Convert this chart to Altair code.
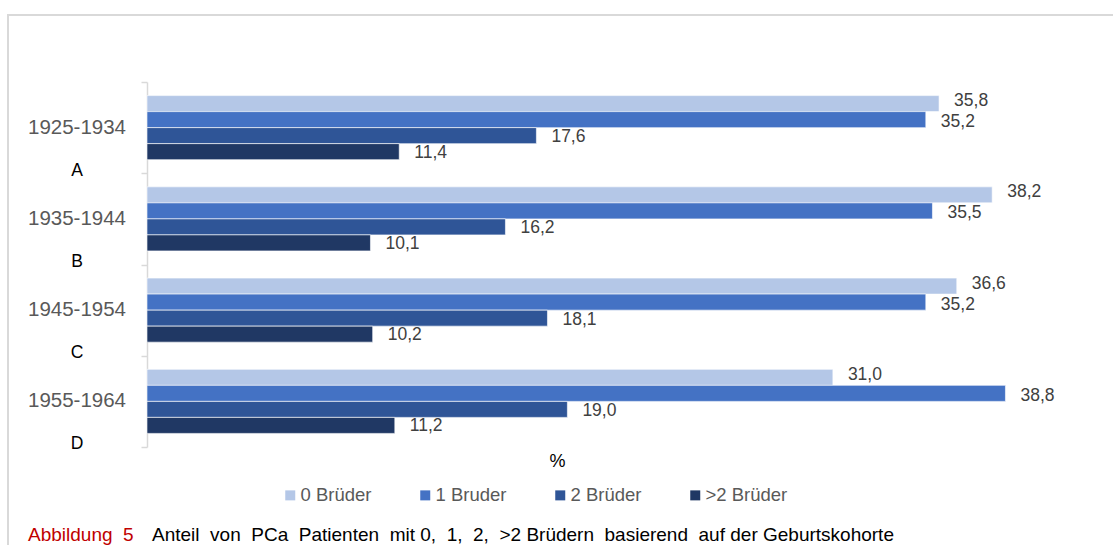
import altair as alt
import pandas as pd

# Birth cohorts (rows) and their short codes
cohorts = ["1925-1934", "1935-1944", "1945-1954", "1955-1964"]
codes = ["A", "B", "C", "D"]

# Number of brothers (series)
series = ["0 Brüder", "1 Bruder", "2 Brüder", ">2 Brüder"]
colors = ["#B4C7E7", "#4472C4", "#2F5597", "#203864"]
# small vertical nudges so neighbouring value labels do not collide
label_shift = [-2.5, 2.5, 1.5, 1.0]

# Share of patients in % per cohort, one list per series
share_0 = [35.8, 38.2, 36.6, 31.0]
share_1 = [35.2, 35.5, 35.2, 38.8]
share_2 = [17.6, 16.2, 18.1, 19.0]
share_3 = [11.4, 10.1, 10.2, 11.2]

NB = "\u00a0"
caption_head = f"Abbildung{NB}{NB}5"
caption_body = (f"Anteil{NB}{NB}von{NB}{NB}PCa{NB}{NB}Patienten{NB}{NB}mit 0,{NB}{NB}1,{NB}{NB}2,"
                f"{NB}{NB}>2 Brüdern{NB}{NB}basierend{NB}{NB}auf der Geburtskohorte")

rows = []
for s, vals in zip(series, [share_0, share_1, share_2, share_3]):
    for c, v in zip(cohorts, vals):
        rows.append({"cohort": c, "series": s, "value": v,
                     "label": f"{v:.1f}".replace(".", ",")})
df = pd.DataFrame(rows)
cohort_df = pd.DataFrame({"cohort": cohorts, "code": codes})

W, H = 885, 365
FONT = "Liberation Sans"

y_enc = alt.Y("cohort:N", sort=cohorts,
              scale=alt.Scale(domain=cohorts, paddingInner=0, paddingOuter=0),
              axis=alt.Axis(title=None, labels=False, domainColor="#D9D9D9",
                            domainWidth=1.5, tickColor="#D9D9D9", tickWidth=1.5,
                            tickSize=6, tickBand="extent", grid=False))
yoff_enc = alt.YOffset("series:N", sort=series,
                       scale=alt.Scale(domain=series, paddingInner=0, paddingOuter=0.85))
x_enc = alt.X("value:Q", scale=alt.Scale(domain=[0, 40], nice=False, zero=True),
              axis=alt.Axis(title="%", labels=False, ticks=False, domain=False, grid=False,
                            titleX=410, titleY=14, titleBaseline="middle",
                            titleFontSize=18, titleFontWeight="normal",
                            titleColor="#000000", titleFont=FONT))

bars = alt.Chart(df).mark_bar(stroke="white", strokeWidth=0.6).encode(
    y=y_enc,
    yOffset=yoff_enc,
    x=x_enc,
    color=alt.Color("series:N", sort=series,
                    scale=alt.Scale(domain=series, range=colors),
                    legend=alt.Legend(title=None, orient="none", direction="horizontal",
                                      columns=4, legendX=134, legendY=404,
                                      symbolType="square", symbolSize=100,
                                      symbolStrokeWidth=0, labelFontSize=18.5,
                                      labelColor="#595959", labelFont=FONT,
                                      labelOffset=1, columnPadding=33,
                                      gridAlign="all")),
)

value_layers = []
for s, shift in zip(series, label_shift):
    value_layers.append(
        alt.Chart(df).transform_filter(alt.datum.series == s).mark_text(
            align="left", baseline="middle", dx=15, dy=shift,
            fontSize=17.5, color="#404040", font=FONT).encode(
            y=alt.Y("cohort:N", sort=cohorts),
            yOffset=alt.YOffset("series:N", sort=series),
            x="value:Q",
            text="label:N",
        )
    )

cohort_labels = alt.Chart(cohort_df).mark_text(align="center", baseline="middle",
                                               fontSize=20.5, color="#595959", font=FONT).encode(
    y=alt.Y("cohort:N", sort=cohorts),
    x=alt.value(-70),
    text="cohort:N",
)

code_labels = alt.Chart(cohort_df).mark_text(align="center", baseline="middle", dy=43,
                                             fontSize=17.5, color="#000000", font=FONT).encode(
    y=alt.Y("cohort:N", sort=cohorts),
    x=alt.value(-70),
    text="code:N",
)

# light frame around the figure (left and top edges)
frame_df = pd.DataFrame({"k": [0]})
frame_left = alt.Chart(frame_df).mark_rule(color="#D9D9D9", strokeWidth=2).encode(
    x=alt.value(-139), y=alt.value(-67), y2=alt.value(470))
frame_top = alt.Chart(frame_df).mark_rule(color="#D9D9D9", strokeWidth=2).encode(
    x=alt.value(-140), x2=alt.value(970), y=alt.value(-67))

cap_head = alt.Chart(pd.DataFrame({"t": [caption_head]})).mark_text(
    align="left", baseline="alphabetic", fontSize=19, color="#C00000", font=FONT).encode(
    x=alt.value(-119), y=alt.value(459), text="t:N")
cap_body = alt.Chart(pd.DataFrame({"t": [caption_body]})).mark_text(
    align="left", baseline="alphabetic", fontSize=19, color="#000000", font=FONT).encode(
    x=alt.value(5), y=alt.value(459), text="t:N")

chart = alt.layer(
    frame_left, frame_top, bars, *value_layers, cohort_labels, code_labels, cap_head, cap_body
).properties(
    width=W, height=H,
    padding={"left": 147, "top": 82, "right": 1113 - 147 - W, "bottom": 545 - 82 - H},
    autosize=alt.AutoSizeParams(type="none"),
    background="white",
).configure_view(stroke=None)

chart.save("out.html", embed_options={"renderer": "svg", "actions": False})
